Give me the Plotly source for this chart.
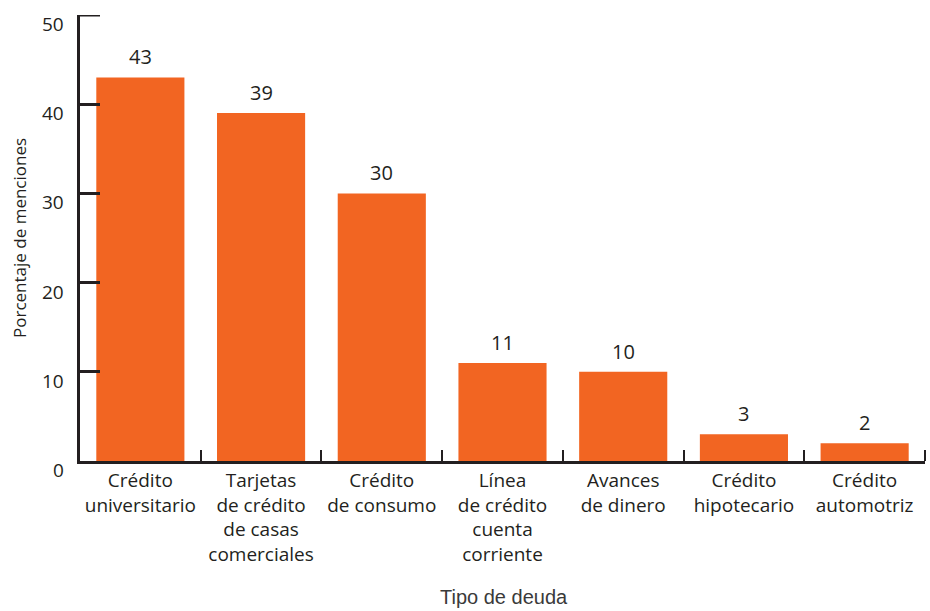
import plotly.graph_objects as go

# Tipos de deuda y porcentaje de menciones
categorias = [
    "Crédito<br>universitario",
    "Tarjetas<br>de crédito<br>de casas<br>comerciales",
    "Crédito<br>de consumo",
    "Línea<br>de crédito<br>cuenta<br>corriente",
    "Avances<br>de dinero",
    "Crédito<br>hipotecario",
    "Crédito<br>automotriz",
]
porcentajes = [43, 39, 30, 11, 10, 3, 2]
ticks_y = [0, 10, 20, 30, 40, 50]

NARANJA = "#F26522"
OSCURO = "#231F20"
FUENTE = "Open Sans, sans-serif"

ANCHO_AREA = 845   # ancho del área de trazado en px
ALTO_AREA = 446    # alto del área de trazado en px

fig = go.Figure(
    go.Bar(
        x=categorias,
        y=porcentajes,
        marker=dict(color=NARANJA, line=dict(width=0)),
        width=0.73,
        hoverinfo="skip",
    )
)

# Valores sobre cada barra
for c, v in zip(categorias, porcentajes):
    fig.add_annotation(
        x=c, y=v, text=str(v), showarrow=False,
        yanchor="bottom", yshift=5,
        font=dict(family=FUENTE, size=20, color=OSCURO),
    )

# Etiquetas del eje vertical, algo por debajo de cada marca
for t in ticks_y:
    fig.add_annotation(
        x=0, xref="paper", y=t, yref="y", text=str(t), showarrow=False,
        xanchor="right", yanchor="middle", xshift=-14, yshift=-9,
        font=dict(family=FUENTE, size=19, color=OSCURO),
    )

# Marcas de los extremos: tope del eje vertical y final del eje horizontal
fig.add_shape(
    type="line", xref="paper", yref="y",
    x0=0, x1=20 / ANCHO_AREA, y0=ticks_y[-1], y1=ticks_y[-1],
    line=dict(color=OSCURO, width=3),
)
fig.add_shape(
    type="line", xref="paper", yref="paper",
    x0=1, x1=1, y0=0, y1=11 / ALTO_AREA,
    line=dict(color=OSCURO, width=2),
)

# Títulos de los ejes
fig.add_annotation(
    text="Tipo de deuda", xref="paper", yref="paper",
    x=(504 - 80) / ANCHO_AREA, y=-(597 - 461) / ALTO_AREA, showarrow=False,
    xanchor="center", yanchor="middle",
    font=dict(family="Liberation Sans, Arial, sans-serif", size=20, color="#3a3a3a"),
)
fig.add_annotation(
    text="Porcentaje de menciones", xref="paper", yref="paper",
    x=-(80 - 19) / ANCHO_AREA, y=0.5, showarrow=False, textangle=-90,
    xanchor="center", yanchor="middle",
    font=dict(family=FUENTE, size=17, color=OSCURO),
)

fig.update_layout(
    width=930, height=611,
    margin=dict(l=80, r=5, t=15, b=150, autoexpand=False),
    paper_bgcolor="white", plot_bgcolor="white",
    showlegend=False,
    xaxis=dict(
        type="category",
        range=[-0.5, len(categorias) - 0.5],
        tickson="boundaries",
        tickangle=0, automargin=False,
        ticks="inside", ticklen=11, tickwidth=2, tickcolor=OSCURO,
        showline=True, linecolor=OSCURO, linewidth=3,
        showgrid=False, zeroline=False,
        tickfont=dict(family=FUENTE, size=19, color=OSCURO),
        fixedrange=True,
    ),
    yaxis=dict(
        range=[0, 50], tickvals=ticks_y,
        ticks="inside", ticklen=20, tickwidth=3, tickcolor=OSCURO,
        showline=True, linecolor=OSCURO, linewidth=3,
        showgrid=False, zeroline=False,
        showticklabels=False, automargin=False,
        fixedrange=True,
    ),
)

fig.write_html("out.html")
